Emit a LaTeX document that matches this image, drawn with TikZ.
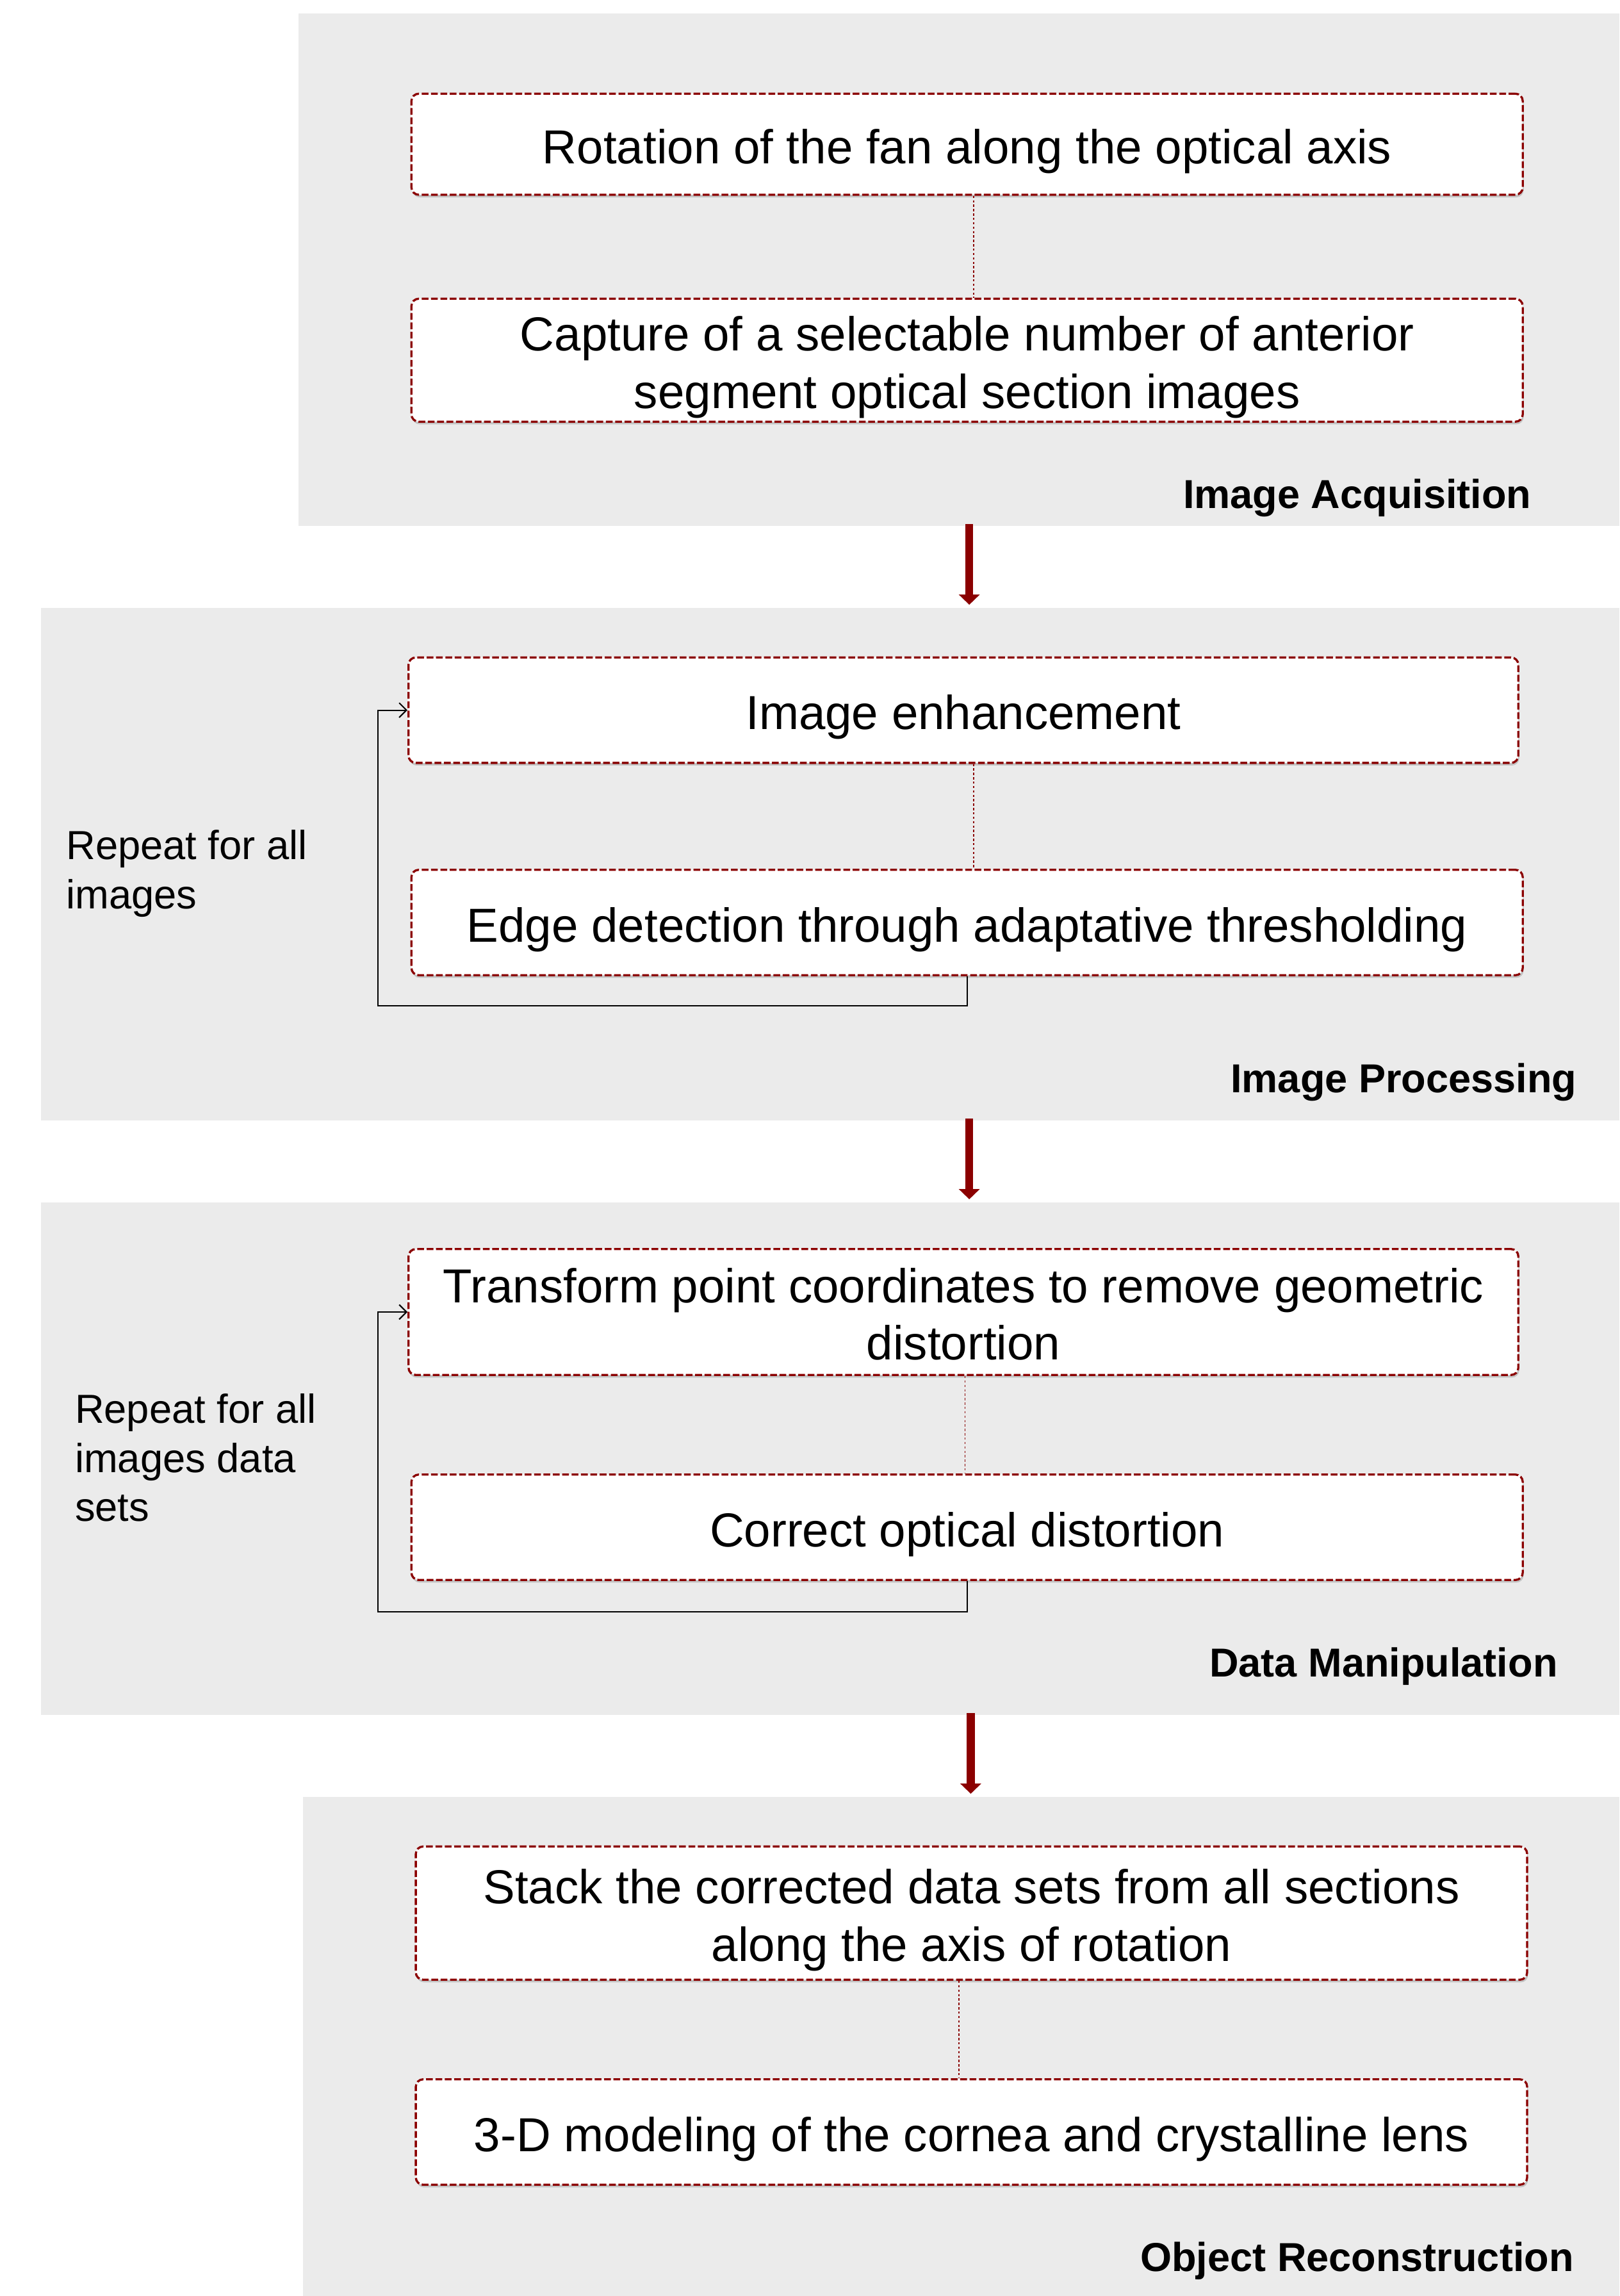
\documentclass[tikz,border=0pt]{standalone}
\usepackage{fontspec}
\setmainfont{Liberation Sans}
\usetikzlibrary{arrows.meta,shadows}
\definecolor{paneltone}{RGB}{235,235,235}
\definecolor{darkred}{RGB}{139,0,0}
\definecolor{shadowtone}{RGB}{195,195,195}
\newcommand{\topstrut}{\rule{0pt}{34.4pt}}
\newcommand{\botstrut}{\rule[-8pt]{0pt}{8pt}}
\tikzset{
  panel/.style={fill=paneltone, draw=none},
  stepbox/.style={draw=darkred, line width=1.45pt, dash pattern=on 4.6pt off 1.8pt,
    rounded corners=5pt, fill=white, minimum width=759pt, inner sep=0pt,
    align=center, font=\fontsize{32.6}{39}\selectfont,
    drop shadow={shadow xshift=0.6pt, shadow yshift=-1.8pt, fill=shadowtone, opacity=1}},
  link/.style={draw=darkred, line width=0.6pt, dash pattern=on 1.5pt off 1.5pt},
  bigarrow/.style={draw=darkred, line width=5.5pt, -{Triangle[width=14pt,length=7pt]}},
  loopline/.style={draw=black, line width=0.9pt, -{Straight Barb[length=5pt,width=10pt]}},
  phase/.style={font=\fontsize{27.6}{33}\selectfont\bfseries, inner sep=0pt, anchor=base east},
  repeatnote/.style={font=\fontsize{27.7}{33.5}\selectfont, inner sep=0pt, align=left, anchor=base west}
}
\begin{document}
\begin{tikzpicture}[x=1pt,y=-1pt]
\useasboundingbox (0,0) rectangle (1106,1568);
% panels
\path[panel] (204,9) rectangle (1106,359);
\path[panel] (28,415) rectangle (1106,765);
\path[panel] (28,821) rectangle (1106,1171);
\path[panel] (207,1227) rectangle (1106,1568);
% panel 1
\node[stepbox, minimum height=69pt] (b1) at (660.5,98.5) {\topstrut Rotation of the fan along the optical axis\botstrut};
\node[stepbox, minimum height=84pt] (b2) at (660.5,246) {\topstrut Capture of a selectable number of anterior\\segment optical section images\botstrut};
\draw[link] ([xshift=4.5pt]b1.south) -- ([xshift=4.5pt]b2.north);
\node[phase] (p1) at (1046,347) {Image Acquisition};
% panel 2
\node[stepbox, minimum width=758pt, minimum height=72pt] (b3) at (658,485) {\topstrut Image enhancement\botstrut};
\node[stepbox, minimum height=72pt] (b4) at (660.5,630) {\topstrut Edge detection through adaptative thresholding\botstrut};
\draw[link] ([xshift=7pt]b3.south) -- ([xshift=7pt]b3.south |- b4.north);
\draw[loopline] (b4.south) -- ++(0,20) -| (258,485) -- (b3.west);
\node[repeatnote] (r1) at (45,620.5) {Repeat for all\\images};
\node[phase] (p2) at (1077,746) {Image Processing};
% panel 3
\node[stepbox, minimum width=758pt, minimum height=86pt] (b5) at (658,896) {\topstrut Transform point coordinates to remove geometric\\distortion\botstrut};
\node[stepbox, minimum height=72pt] (b6) at (660.5,1043) {\topstrut Correct optical distortion\botstrut};
\draw[link] ([xshift=1pt]b5.south) -- ([xshift=1pt]b5.south |- b6.north);
\draw[loopline] (b6.south) -- ++(0,21) -| (258,896) -- (b5.west);
\node[repeatnote] (r2) at (51,1039) {Repeat for all\\images data\\sets};
\node[phase] (p3) at (1064,1145) {Data Manipulation};
% panel 4
\node[stepbox, minimum height=91pt] (b7) at (663.5,1306.5) {\topstrut Stack the corrected data sets from all sections\\along the axis of rotation\botstrut};
\node[stepbox, minimum height=72pt] (b8) at (663.5,1456) {\topstrut 3-D modeling of the cornea and crystalline lens\botstrut};
\draw[link] ([xshift=-8.5pt]b7.south) -- ([xshift=-8.5pt]b7.south |- b8.north);
\node[phase] (p4) at (1075,1551) {Object Reconstruction};
% phase arrows
\coordinate (a1s) at (662,358); \coordinate (a1e) at (662,413);
\coordinate (a2s) at (662,764); \coordinate (a2e) at (662,819);
\coordinate (a3s) at (663,1170); \coordinate (a3e) at (663,1225);
\draw[bigarrow] (a1s) -- (a1e);
\draw[bigarrow] (a2s) -- (a2e);
\draw[bigarrow] (a3s) -- (a3e);
\end{tikzpicture}
\end{document}
